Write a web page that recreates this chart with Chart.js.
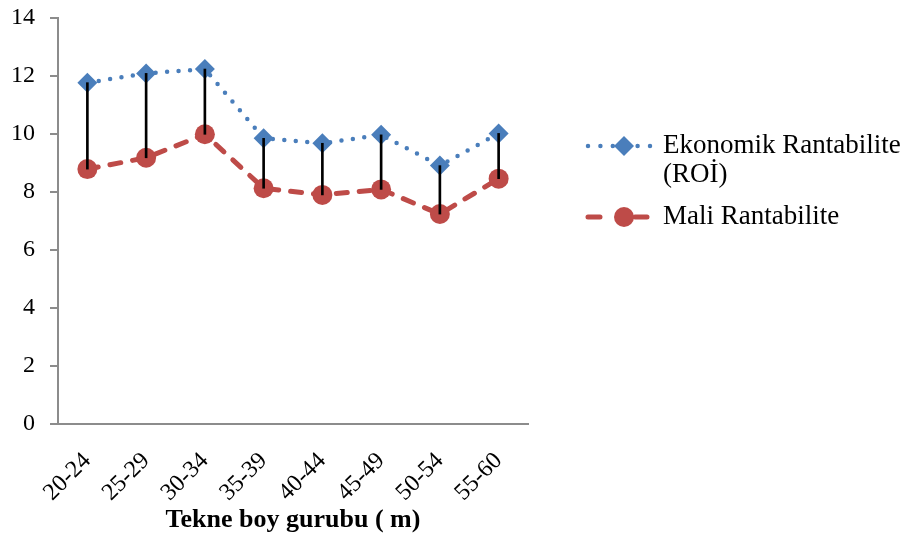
<!DOCTYPE html>
<html>
<head>
<meta charset="utf-8">
<script src="https://cdn.jsdelivr.net/npm/chart.js@4/dist/chart.umd.min.js"></script>
<style>
  html, body { margin: 0; padding: 0; background: #ffffff; }
  #wrap { width: 904px; height: 538px; position: relative; }
</style>
</head>
<body>
<div id="wrap"><canvas id="chart"></canvas></div>
<script>
// Boat length groups (m)
const categories = ['20-24', '25-29', '30-34', '35-39', '40-44', '45-49', '50-54', '55-60'];
// Economic profitability (ROİ)
const ekonomikRantabilite = [11.77, 12.09, 12.24, 9.85, 9.68, 9.97, 8.91, 10.02];
// Financial profitability
const maliRantabilite = [8.79, 9.18, 9.99, 8.13, 7.90, 8.09, 7.24, 8.46];
// Value axis ticks
const yTicks = [0, 2, 4, 6, 8, 10, 12, 14];
const seriesLabels = [['Ekonomik Rantabilite', '(ROİ)'], ['Mali Rantabilite']];
const xAxisTitle = 'Tekne boy gurubu ( m)';

const BLUE = '#4A7EBB';
const RED = '#BE4B48';
const SERIF = '"Liberation Serif", "Times New Roman", serif';

// Vertical high-low lines joining the two series at each category
const dropLines = categories.map((_, i) => [maliRantabilite[i], ekonomikRantabilite[i]]);

// Legend drawn to the right of the plot: sample line with marker, then label
const sideLegend = {
  id: 'sideLegend',
  afterDraw(chart) {
    const ctx = chart.ctx;
    const a = chart.chartArea;
    const x0 = a.right + 60, x1 = a.right + 122, xm = a.right + 96, xt = a.right + 135;
    const rows = [
      { ds: 0, y: 146, lines: seriesLabels[0] },
      { ds: 1, y: 217, lines: seriesLabels[1] }
    ];
    rows.forEach(r => {
      const d = chart.data.datasets[r.ds];
      ctx.save();
      ctx.strokeStyle = d.borderColor;
      ctx.lineWidth = d.borderWidth;
      ctx.lineCap = 'round';
      ctx.setLineDash(d.legendDash);
      ctx.beginPath();
      ctx.moveTo(x0, r.y);
      ctx.lineTo(x1, r.y);
      ctx.stroke();
      ctx.setLineDash([]);
      ctx.fillStyle = d.pointBackgroundColor;
      ctx.beginPath();
      if (d.pointStyle === 'rectRot') {
        const s = d.pointRadius;
        ctx.moveTo(xm, r.y - s);
        ctx.lineTo(xm + s, r.y);
        ctx.lineTo(xm, r.y + s);
        ctx.lineTo(xm - s, r.y);
        ctx.closePath();
      } else {
        ctx.arc(xm, r.y, d.pointRadius, 0, Math.PI * 2);
      }
      ctx.fill();
      ctx.fillStyle = '#000000';
      ctx.font = '27px ' + SERIF;
      ctx.textBaseline = 'middle';
      ctx.textAlign = 'left';
      r.lines.forEach((t, k) => ctx.fillText(t, xt, r.y + k * 29));
      ctx.restore();
    });
  }
};

new Chart(document.getElementById('chart'), {
  data: {
    labels: categories,
    datasets: [
      {
        type: 'line',
        label: seriesLabels[0].join(' '),
        data: ekonomikRantabilite,
        borderColor: BLUE,
        backgroundColor: BLUE,
        borderWidth: 4.5,
        borderDash: [0, 11.5],
        borderCapStyle: 'round',
        legendDash: [0, 12.4],
        tension: 0,
        fill: false,
        pointStyle: 'rectRot',
        pointRadius: 10,
        pointBackgroundColor: BLUE,
        pointBorderColor: BLUE,
        pointBorderWidth: 0,
        order: 2
      },
      {
        type: 'line',
        label: seriesLabels[1].join(' '),
        data: maliRantabilite,
        borderColor: RED,
        backgroundColor: RED,
        borderWidth: 5,
        borderDash: [11, 12],
        borderCapStyle: 'round',
        legendDash: [12, 35],
        tension: 0,
        fill: false,
        pointStyle: 'circle',
        pointRadius: 10,
        pointBackgroundColor: RED,
        pointBorderColor: RED,
        pointBorderWidth: 0,
        order: 2
      },
      {
        type: 'bar',
        label: 'high-low',
        data: dropLines,
        backgroundColor: '#000000',
        borderWidth: 0,
        barThickness: 2,
        order: 0
      }
    ]
  },
  options: {
    responsive: true,
    maintainAspectRatio: false,
    animation: false,
    layout: { padding: { top: 0, right: 376, bottom: 0, left: 0 } },
    plugins: {
      legend: { display: false },
      tooltip: { enabled: false },
      title: { display: false }
    },
    scales: {
      x: {
        type: 'category',
        offset: true,
        grid: { display: false, drawTicks: false },
        border: { display: true, color: '#8C8C8C', width: 2 },
        ticks: {
          color: '#000000',
          font: { family: SERIF, size: 24 },
          minRotation: 45,
          maxRotation: 45,
          padding: 23,
          autoSkip: false
        },
        title: {
          display: true,
          text: xAxisTitle,
          color: '#000000',
          font: { family: SERIF, size: 26, weight: 'bold' },
          padding: { top: 0, bottom: 2 }
        },
        afterFit(scale) { scale.height = 114; }
      },
      y: {
        min: 0,
        max: 14,
        afterBuildTicks(scale) { scale.ticks = yTicks.map(v => ({ value: v })); },
        grid: { display: true, drawOnChartArea: false, drawTicks: true, tickLength: 8, color: '#8C8C8C', lineWidth: 2 },
        border: { display: true, color: '#8C8C8C', width: 2 },
        ticks: {
          color: '#000000',
          font: { family: SERIF, size: 24, lineHeight: 0.25 },
          padding: 15
        },
        afterFit(scale) { scale.width = 58; }
      }
    }
  },
  plugins: [sideLegend]
});
</script>
</body>
</html>
